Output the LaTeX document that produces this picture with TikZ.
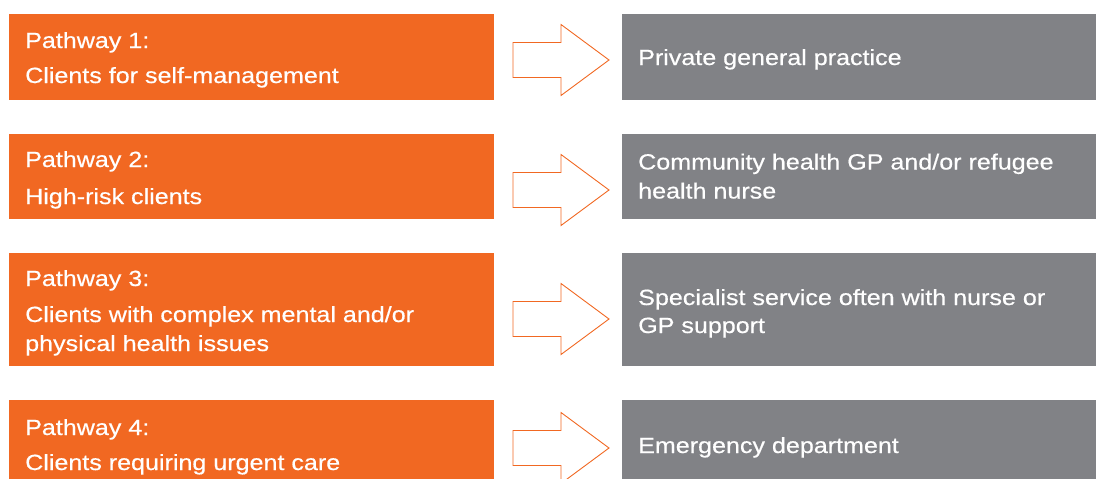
\documentclass[tikz,border=0pt]{standalone}
\usepackage{fontspec}
\setmainfont{Liberation Sans}[FakeStretch=1.14,FakeBold=0.5]
\definecolor{porange}{HTML}{F16822}
\definecolor{pgray}{HTML}{818286}
\tikzset{
  obox/.style={fill=porange, draw=none, inner sep=0pt, anchor=north west},
  gbox/.style={fill=pgray, draw=none, inner sep=0pt, anchor=north west},
  txt/.style={text=white, anchor=base west, inner sep=0pt, font=\fontsize{22}{26}\selectfont},
  blockarrow/.pic={
    \draw[draw=porange, line width=0.9pt, fill=white, line join=miter]
      (-96,-17.5) -- (-48,-17.5) -- (-48,-35.5) -- (0,0) -- (-48,35.5) -- (-48,17.5) -- (-96,17.5) -- cycle;
  }
}
\begin{document}
\begin{tikzpicture}[x=1pt,y=-1pt]
\useasboundingbox (0,0) rectangle (1096,479);
% orange boxes
\node[obox, minimum width=485pt, minimum height=86pt] (o1) at (9,14) {};
\node[obox, minimum width=485pt, minimum height=85pt] (o2) at (9,134) {};
\node[obox, minimum width=485pt, minimum height=113pt] (o3) at (9,253) {};
\node[obox, minimum width=485pt, minimum height=79pt] (o4) at (9,400) {};
% gray boxes
\node[gbox, minimum width=474pt, minimum height=86pt] (g1) at (622,14) {};
\node[gbox, minimum width=474pt, minimum height=85pt] (g2) at (622,134) {};
\node[gbox, minimum width=474pt, minimum height=113pt] (g3) at (622,253) {};
\node[gbox, minimum width=474pt, minimum height=79pt] (g4) at (622,400) {};
% arrows
\pic at (609,60) {blockarrow};
\pic at (609,190) {blockarrow};
\pic at (609,319) {blockarrow};
\pic at (609,448) {blockarrow};
% orange texts
\node[txt] (t1a) at (25,48) {Pathway 1:};
\node[txt] (t1b) at (25,83) {Clients for self-management};
\node[txt] (t2a) at (25,167) {Pathway 2:};
\node[txt] (t2b) at (25,204) {High-risk clients};
\node[txt] (t3a) at (25,286) {Pathway 3:};
\node[txt] (t3b) at (25,322) {Clients with complex mental and/or};
\node[txt] (t3c) at (25,351) {physical health issues};
\node[txt] (t4a) at (25,435) {Pathway 4:};
\node[txt] (t4b) at (25,470) {Clients requiring urgent care};
% gray texts
\node[txt] (s1) at (638,65) {Private general practice};
\node[txt] (s2a) at (638,169.5) {Community health GP and/or refugee};
\node[txt] (s2b) at (638,198.5) {health nurse};
\node[txt] (s3a) at (638,305) {Specialist service often with nurse or};
\node[txt] (s3b) at (638,333) {GP support};
\node[txt] (s4) at (638,453) {Emergency department};
\end{tikzpicture}
\end{document}
